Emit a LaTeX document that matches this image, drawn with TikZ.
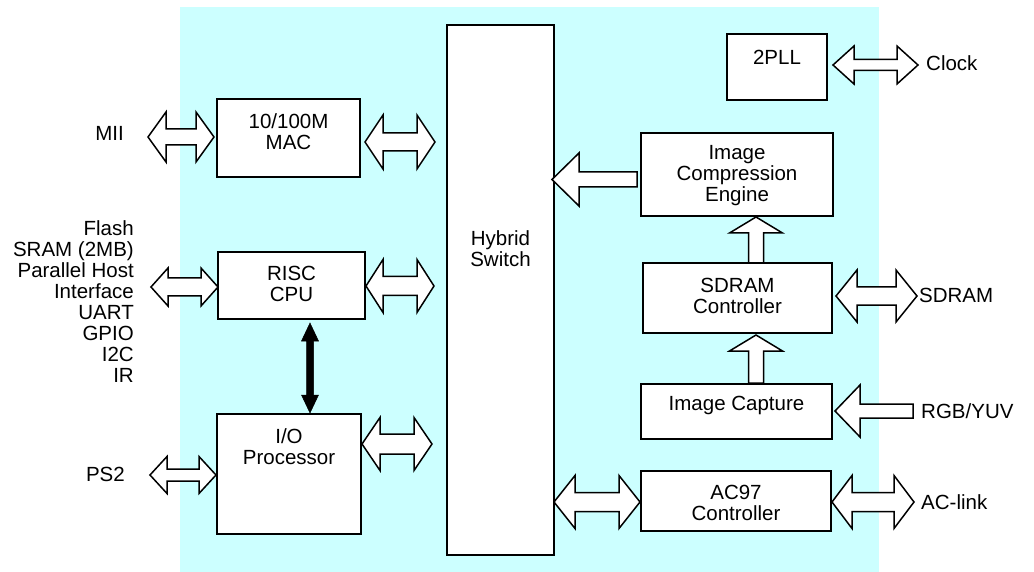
\documentclass[tikz,border=0pt]{standalone}
\usepackage{fontspec}
\setmainfont{Liberation Sans}
\usetikzlibrary{calc}
\definecolor{bgcyan}{RGB}{204,255,255}
\tikzset{
  box/.style={draw=black, line width=1.5pt, fill=white, inner sep=0pt},
  txt/.style={font=\fontsize{20.5}{21}\selectfont, align=center, inner sep=0pt},
  blockarrow/.style={draw=black, line width=1.5pt, fill=white, line join=miter},
  solidarrow/.style={draw=black, fill=black, line width=0.5pt, line join=miter}
}
% horizontal double block arrow: #1 left end, #2 right end, #3 head half, #4 shaft half, #5 head length
\newcommand\hdbl[5]{%
  \draw[blockarrow] let \p1=(#1), \p2=(#2) in
    (\x1,\y1) -- (\x1+#5,\y1+#3) -- (\x1+#5,\y1+#4) -- (\x2-#5,\y1+#4) -- (\x2-#5,\y1+#3)
    -- (\x2,\y1) -- (\x2-#5,\y1-#3) -- (\x2-#5,\y1-#4) -- (\x1+#5,\y1-#4) -- (\x1+#5,\y1-#3) -- cycle;}
% horizontal single block arrow pointing left: #1 tip (left), #2 tail (right)
\newcommand\hleft[5]{%
  \draw[blockarrow] let \p1=(#1), \p2=(#2) in
    (\x1,\y1) -- (\x1+#5,\y1+#3) -- (\x1+#5,\y1+#4) -- (\x2,\y1+#4)
    -- (\x2,\y1-#4) -- (\x1+#5,\y1-#4) -- (\x1+#5,\y1-#3) -- cycle;}
% vertical single block arrow pointing up: #1 tip (top), #2 tail (bottom)
\newcommand\vup[5]{%
  \draw[blockarrow] let \p1=(#1), \p2=(#2) in
    (\x1,\y1) -- (\x1+#3,\y1-#5) -- (\x1+#4,\y1-#5) -- (\x1+#4,\y2)
    -- (\x1-#4,\y2) -- (\x1-#4,\y1-#5) -- (\x1-#3,\y1-#5) -- cycle;}
\begin{document}
\begin{tikzpicture}[x=1pt,y=-1pt]
\useasboundingbox (0,0) rectangle (1034,572);
\fill[bgcyan] (180,7) rectangle (879,572);

% boxes
\node[box, minimum width=107pt, minimum height=530pt] (sw) at (500.5,290) {};
\node[txt] (swt) at (500.5,248.5) {Hybrid\\Switch};

\node[box, minimum width=143pt, minimum height=78pt] (mac) at (288.5,138) {};
\node[txt] (mact) at (288.5,131.5) {10/100M\\MAC};

\node[box, minimum width=147pt, minimum height=67pt] (risc) at (291.5,285.5) {};
\node[txt] (risct) at (291.5,283.5) {RISC\\CPU};

\node[box, minimum width=144pt, minimum height=120pt] (io) at (289,474) {};
\node[txt] (iot) at (289,447) {I/O\\Processor};

\node[box, minimum width=100pt, minimum height=66pt] (pll) at (777,67) {};
\node[txt] (pllt) at (777,57) {2PLL};

\node[box, minimum width=192pt, minimum height=83pt] (ice) at (737,174.5) {};
\node[txt] (icet) at (737,175.5) {Image\\Compression\\Engine};

\node[box, minimum width=189pt, minimum height=70pt] (sdc) at (737.5,298) {};
\node[txt] (sdct) at (737.5,295.5) {SDRAM\\Controller};

\node[box, minimum width=191pt, minimum height=55pt] (cap) at (736.5,411.5) {};
\node[txt] (capt) at (736.5,405) {Image Capture};

\node[box, minimum width=190pt, minimum height=60pt] (ac) at (736,501) {};
\node[txt] (act) at (736,503) {AC97\\Controller};

% outside labels
\node[txt, anchor=east] (mii) at (124,133) {MII};
\node[txt, anchor=east, align=right] (periph) at (134,301.5) {Flash\\SRAM (2MB)\\Parallel Host\\Interface\\UART\\GPIO\\I2C\\IR};
\node[txt, anchor=east] (ps2) at (125,474) {PS2};
\node[txt, anchor=west] (clk) at (926,63) {Clock};
\node[txt, anchor=west] (sdram) at (919,295) {SDRAM};
\node[txt, anchor=west] (rgb) at (921,411) {RGB/YUV};
\node[txt, anchor=west] (aclink) at (921,502) {AC-link};

% connector end points
\coordinate (miiA) at (148,137);   \coordinate (miiB) at (214,137);
\coordinate (macA) at (365,142);   \coordinate (macB) at (435,142);
\coordinate (rlA) at (151,287);    \coordinate (rlB) at (218,287);
\coordinate (rrA) at (366,286);    \coordinate (rrB) at (434,286);
\coordinate (ps2A) at (150,475);   \coordinate (ps2B) at (216,475);
\coordinate (iorA) at (362,444);   \coordinate (iorB) at (432,444);
\coordinate (clkA) at (833,65);    \coordinate (clkB) at (918,65);
\coordinate (iceA) at (552,179.5); \coordinate (iceB) at (637,179.5);
\coordinate (upA) at (756,217);    \coordinate (upB) at (756,263);
\coordinate (up2A) at (756,335);   \coordinate (up2B) at (756,383);
\coordinate (sdA) at (836,296);    \coordinate (sdB) at (917,296);
\coordinate (rgbA) at (835,411);   \coordinate (rgbB) at (913,411);
\coordinate (aclA) at (554,502);   \coordinate (aclB) at (640,502);
\coordinate (acrA) at (832,502);   \coordinate (acrB) at (914,502);
\coordinate (cpuB) at (310,323);   \coordinate (ioT) at (310,413);

% block arrows
\hdbl{miiA}{miiB}{25pt}{8pt}{18pt}
\hdbl{macA}{macB}{27pt}{9pt}{18pt}
\hdbl{rlA}{rlB}{19pt}{9pt}{17pt}
\hdbl{rrA}{rrB}{26.5pt}{9.5pt}{17pt}
\hdbl{ps2A}{ps2B}{18.5pt}{6pt}{17pt}
\hdbl{iorA}{iorB}{26.5pt}{10pt}{18pt}
\hdbl{clkA}{clkB}{19pt}{5.5pt}{21pt}
\hleft{iceA}{iceB}{26.5pt}{7.5pt}{27pt}
\vup{upA}{upB}{26.5pt}{7.5pt}{16pt}
\vup{up2A}{up2B}{26.5pt}{7.5pt}{16pt}
\hdbl{sdA}{sdB}{26pt}{9pt}{21pt}
\hleft{rgbA}{rgbB}{26pt}{7pt}{25pt}
\hdbl{aclA}{aclB}{26.5pt}{9.5pt}{21pt}
\hdbl{acrA}{acrB}{26.5pt}{9.5pt}{20pt}

% black double arrow CPU <-> I/O
\draw[solidarrow] let \p1=(cpuB), \p2=(ioT) in
  (\x1,\y1) -- (\x1+8.5pt,\y1-18pt) -- (\x1+3.5pt,\y1-18pt) -- (\x1+3.5pt,\y2+18pt)
  -- (\x1+8.5pt,\y2+18pt) -- (\x2,\y2) -- (\x1-8.5pt,\y2+18pt) -- (\x1-3.5pt,\y2+18pt)
  -- (\x1-3.5pt,\y1-18pt) -- (\x1-8.5pt,\y1-18pt) -- cycle;
\end{tikzpicture}
\end{document}
